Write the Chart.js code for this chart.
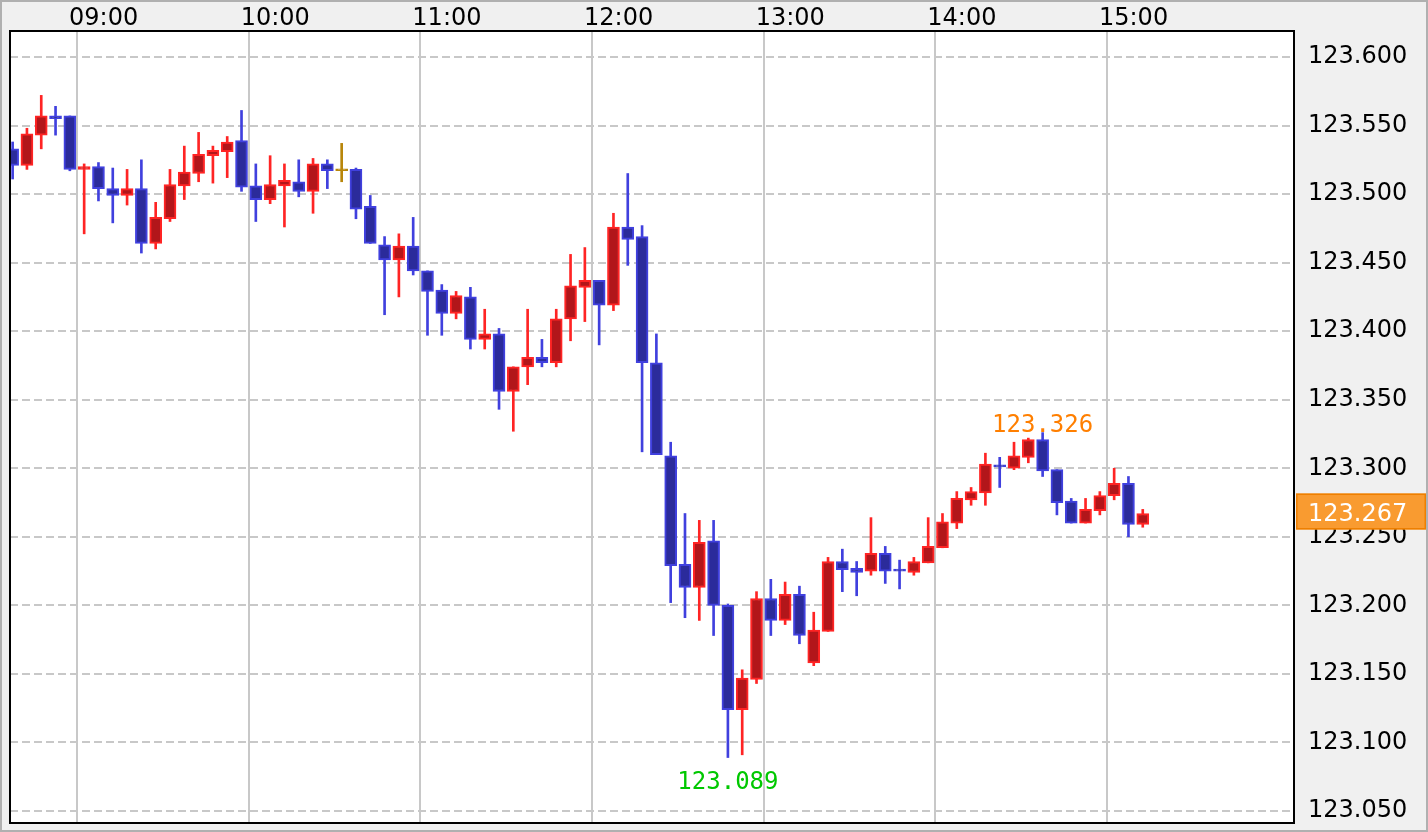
<!DOCTYPE html>
<html>
<head>
<meta charset="utf-8">
<script src="https://cdn.jsdelivr.net/npm/chart.js@4"></script>
<style>
html,body{margin:0;padding:0;background:#f0f0f0;}
canvas{display:block;}
</style>
</head>
<body>
<canvas id="c" width="1428" height="832"></canvas>
<script>
// ---- data (5-minute candles) ----
const times = ['08:35','08:40','08:45','08:50','08:55','09:00','09:05','09:10','09:15','09:20','09:25','09:30','09:35','09:40','09:45','09:50','09:55',
'10:00','10:05','10:10','10:15','10:20','10:25','10:30','10:35','10:40','10:45','10:50','10:55',
'11:00','11:05','11:10','11:15','11:20','11:25','11:30','11:35','11:40','11:45','11:50','11:55',
'12:00','12:05','12:10','12:15','12:20','12:25','12:30','12:35','12:40','12:45','12:50','12:55',
'13:00','13:05','13:10','13:15','13:20','13:25','13:30','13:35','13:40','13:45','13:50','13:55',
'14:00','14:05','14:10','14:15','14:20','14:25','14:30','14:35','14:40','14:45','14:50','14:55',
'15:00','15:05','15:10'];
const opens = [123.533,123.521,123.543,123.557,123.557,123.518,123.520,123.504,123.499,123.504,123.464,123.482,123.506,123.515,123.528,123.531,123.539,
123.506,123.496,123.506,123.509,123.502,123.522,123.517,123.518,123.491,123.463,123.452,123.462,
123.444,123.430,123.413,123.425,123.394,123.398,123.356,123.374,123.381,123.377,123.409,123.432,
123.437,123.419,123.476,123.469,123.377,123.309,123.230,123.213,123.247,123.200,123.124,123.146,
123.205,123.189,123.208,123.158,123.181,123.232,123.227,123.225,123.238,123.226,123.224,123.231,
123.242,123.260,123.277,123.282,123.302,123.300,123.308,123.321,123.299,123.276,123.260,123.269,
123.280,123.289,123.259];
const highs = [123.538,123.548,123.572,123.564,123.557,123.522,123.523,123.519,123.518,123.525,123.494,123.518,123.535,123.545,123.535,123.542,123.561,
123.522,123.528,123.522,123.525,123.526,123.525,123.537,123.519,123.499,123.469,123.471,123.483,
123.444,123.434,123.429,123.432,123.416,123.402,123.374,123.416,123.394,123.416,123.456,123.461,
123.437,123.486,123.515,123.477,123.398,123.319,123.267,123.262,123.262,123.201,123.153,123.210,
123.219,123.217,123.214,123.195,123.235,123.241,123.232,123.264,123.243,123.233,123.235,123.264,
123.267,123.283,123.286,123.311,123.308,123.319,123.322,123.326,123.299,123.278,123.278,123.283,
123.300,123.294,123.270];
const lows = [123.511,123.518,123.533,123.543,123.517,123.471,123.495,123.479,123.492,123.457,123.460,123.480,123.496,123.509,123.508,123.512,123.502,
123.480,123.493,123.476,123.498,123.486,123.504,123.509,123.482,123.464,123.412,123.425,123.441,
123.397,123.397,123.409,123.387,123.387,123.343,123.327,123.361,123.374,123.374,123.393,123.407,
123.390,123.415,123.448,123.312,123.310,123.202,123.191,123.189,123.178,123.089,123.091,123.143,
123.178,123.186,123.172,123.156,123.181,123.210,123.207,123.222,123.216,123.212,123.222,123.231,
123.242,123.256,123.273,123.273,123.286,123.299,123.304,123.294,123.266,123.260,123.260,123.266,
123.277,123.250,123.257];
const closes = [123.521,123.544,123.557,123.555,123.518,123.520,123.504,123.499,123.504,123.464,123.483,123.507,123.516,123.529,123.532,123.538,123.505,
123.496,123.507,123.510,123.502,123.522,123.517,123.517,123.489,123.464,123.452,123.462,123.444,
123.429,123.413,123.426,123.394,123.398,123.356,123.374,123.381,123.377,123.409,123.433,123.437,
123.419,123.476,123.467,123.377,123.310,123.229,123.213,123.246,123.200,123.124,123.147,123.205,
123.189,123.208,123.178,123.182,123.232,123.226,123.224,123.238,123.225,123.225,123.232,123.243,
123.261,123.278,123.283,123.303,123.301,123.309,123.321,123.298,123.275,123.260,123.270,123.280,
123.289,123.259,123.267];

const xTickLabels = ['09:00','10:00','11:00','12:00','13:00','14:00','15:00'];
const yTickValues = [123.050,123.100,123.150,123.200,123.250,123.300,123.350,123.400,123.450,123.500,123.550,123.600];
const lastPrice = 123.267;
const highMark = { time: '14:35', value: 123.326 };
const lowMark  = { time: '12:45', value: 123.089 };

// ---- helpers / styles ----
const toMin = s => { const p = s.split(':').map(Number); return p[0]*60 + p[1]; };
const CENTER = 2.5; // candle drawn at middle of its 5-minute interval
const xOf = t => toMin(t) + CENTER;

const UP_EDGE = '#ff2424', UP_FILL = '#b2161a';
const DN_EDGE = '#4040de', DN_FILL = '#2b2b9b';
const EQ = '#b8860b';
const edgeCol = times.map((t,i) => closes[i] > opens[i] ? UP_EDGE : (closes[i] < opens[i] ? DN_EDGE : EQ));
const fillCol = times.map((t,i) => closes[i] > opens[i] ? UP_FILL : (closes[i] < opens[i] ? DN_FILL : EQ));

const FONT = "'DejaVu Sans', sans-serif";
const MONO = "'DejaVu Sans Mono', monospace";

const decoPlugin = {
  id: 'deco',
  beforeDraw(chart) {
    const { ctx, chartArea: a, width, height } = chart;
    ctx.save();
    ctx.fillStyle = '#f0f0f0';
    ctx.fillRect(0, 0, width, height);
    ctx.fillStyle = '#ffffff';
    ctx.fillRect(a.left, a.top, a.right - a.left, a.bottom - a.top);
    ctx.restore();
  },
  afterDatasetsDraw(chart) {
    const { ctx, chartArea: a, scales } = chart;
    const xs = scales.x, ys = scales.y;
    ctx.save();
    // annotations
    ctx.font = '24px ' + MONO;
    ctx.textAlign = 'center';
    ctx.textBaseline = 'alphabetic';
    ctx.fillStyle = '#ff7f00';
    ctx.fillText(highMark.value.toFixed(3), xs.getPixelForValue(xOf(highMark.time)), ys.getPixelForValue(highMark.value) - 1);
    ctx.fillStyle = '#00c800';
    ctx.fillText(lowMark.value.toFixed(3), xs.getPixelForValue(xOf(lowMark.time)), ys.getPixelForValue(lowMark.value) + 31);
    // plot frame
    ctx.strokeStyle = '#000';
    ctx.lineWidth = 2;
    ctx.strokeRect(a.left, a.top, a.right - a.left, a.bottom - a.top);
    ctx.restore();
  },
  afterDraw(chart) {
    const { ctx, chartArea: a, scales, width, height } = chart;
    const yp = scales.y.getPixelForValue(lastPrice);
    ctx.save();
    ctx.fillStyle = '#f99b30';
    ctx.strokeStyle = '#ee7f00';
    ctx.lineWidth = 1.5;
    ctx.fillRect(a.right + 2, yp - 20, 130, 36);
    ctx.strokeRect(a.right + 2.75, yp - 19.25, 128.5, 34.5);
    ctx.fillStyle = '#ffffff';
    ctx.font = '24px ' + FONT;
    ctx.textAlign = 'left';
    ctx.textBaseline = 'middle';
    ctx.fillText(lastPrice.toFixed(3), a.right + 14, yp + 1);
    // outer frame
    ctx.strokeStyle = '#b0b0b0';
    ctx.lineWidth = 2;
    ctx.strokeRect(1, 1, width - 2, height - 2);
    ctx.restore();
  }
};

new Chart(document.getElementById('c'), {
  type: 'bar',
  data: {
    datasets: [
      {
        label: 'wick',
        data: times.map((t,i) => ({ x: xOf(t), y: [lows[i], highs[i]] })),
        backgroundColor: edgeCol,
        barThickness: 2,
        grouped: false,
        order: 2
      },
      {
        label: 'body',
        data: times.map((t,i) => ({ x: xOf(t), y: [opens[i], closes[i]] })),
        backgroundColor: fillCol,
        borderColor: edgeCol,
        borderWidth: 2,
        borderSkipped: false,
        barThickness: 12,
        minBarLength: 2,
        grouped: false,
        order: 1
      }
    ]
  },
  options: {
    responsive: false,
    animation: false,
    devicePixelRatio: 1,
    layout: { padding: { left: 10, bottom: 9, top: 0, right: 0 } },
    plugins: { legend: { display: false }, tooltip: { enabled: false } },
    scales: {
      x: {
        type: 'linear',
        position: 'top',
        min: 516.58,
        max: 965.36,
        offset: false,
        grid: { offset: false, color: '#c8c8c8', lineWidth: 2, drawTicks: false },
        border: { display: false },
        ticks: {
          autoSkip: false,
          maxRotation: 0,
          align: 'start',
          labelOffset: -8,
          padding: 0,
          color: '#000',
          font: { family: FONT, size: 24, lineHeight: 1 },
          callback: (v) => { const i = xTickLabels.findIndex(s => toMin(s) === v); return i >= 0 ? xTickLabels[i] : ''; }
        },
        afterBuildTicks: s => { s.ticks = xTickLabels.map(l => ({ value: toMin(l) })); },
        afterFit: s => { s.height = 31; s.paddingLeft = 0; s.paddingRight = 0; }
      },
      y: {
        type: 'linear',
        position: 'right',
        min: 123.04125,
        max: 123.61896,
        grid: { color: '#c8c8c8', lineWidth: 2, drawTicks: false },
        border: { display: false, dash: [8, 4] },
        ticks: {
          padding: 14,
          color: '#000',
          font: { family: FONT, size: 24, lineHeight: 1 },
          callback: v => Number(v).toFixed(3)
        },
        afterBuildTicks: s => { s.ticks = yTickValues.map(v => ({ value: v })); },
        afterFit: s => { s.width = 134; s.paddingTop = 0; s.paddingBottom = 0; }
      }
    }
  },
  plugins: [decoPlugin]
});
</script>
</body>
</html>
